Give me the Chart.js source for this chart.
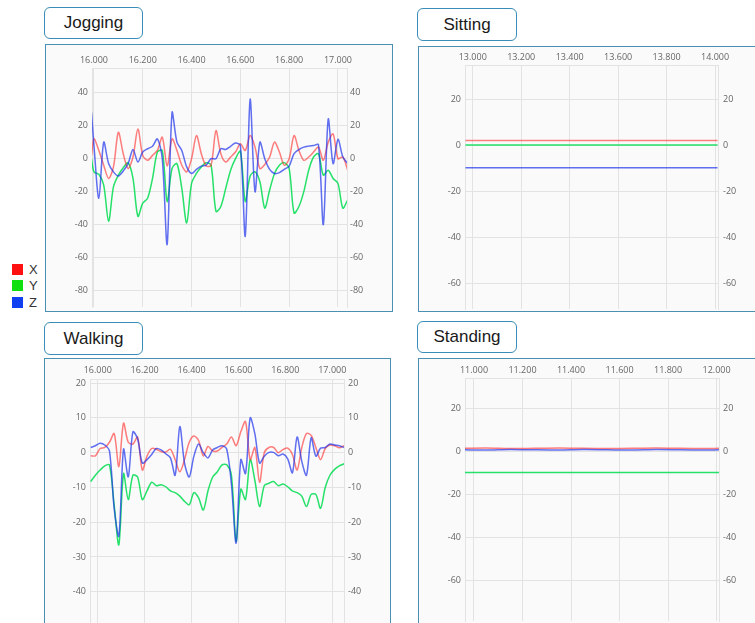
<!DOCTYPE html>
<html>
<head>
<meta charset="utf-8">
<script src="https://cdn.jsdelivr.net/npm/chart.js@4.4.0/dist/chart.umd.min.js"></script>
<style>
  body { margin: 0; width: 755px; height: 623px; overflow: hidden; background: #fff; position: relative; font-family: Arial, "Liberation Sans", sans-serif; }
  .tag { position: absolute; box-sizing: border-box; border: 1.5px solid #3a8db8; border-radius: 6px; background: #fff;
         font-size: 17px; color: #1a1a1a; display: flex; align-items: center; justify-content: center; }
  .box { position: absolute; box-sizing: border-box; border: 1.5px solid #4b8fb3; background: #fafafa; }
  canvas { position: absolute; }
  .sw { position: absolute; left: 12px; width: 11px; height: 11px; }
  .lt { position: absolute; left: 29px; font-size: 13px; line-height: 15px; color: #333; }
</style>
</head>
<body>
<div class="tag" style="left:44px;top:7px;width:99px;height:32px">Jogging</div>
<div class="tag" style="left:417px;top:8px;width:100px;height:33px">Sitting</div>
<div class="tag" style="left:44px;top:322px;width:99px;height:33px">Walking</div>
<div class="tag" style="left:417px;top:321px;width:100px;height:32px">Standing</div>

<div class="box" style="left:45px;top:44px;width:348px;height:268px"></div>
<div class="box" style="left:418px;top:46px;width:345px;height:266px"></div>
<div class="box" style="left:44px;top:358px;width:347px;height:280px"></div>
<div class="box" style="left:418px;top:358px;width:345px;height:280px"></div>

<canvas id="jogging" width="344" height="262" style="left:47px;top:48px"></canvas>
<canvas id="sitting" width="335" height="261" style="left:420px;top:49px"></canvas>
<canvas id="walking" width="343" height="265" style="left:46px;top:360px"></canvas>
<canvas id="standing" width="335" height="263" style="left:420px;top:360px"></canvas>

<div class="sw" style="top:264px;background:#ff1010"></div><div class="lt" style="top:262px">X</div>
<div class="sw" style="top:280px;background:#10e010"></div><div class="lt" style="top:278px">Y</div>
<div class="sw" style="top:297px;background:#1040f0"></div><div class="lt" style="top:295px">Z</div>

<script>
// Jogging
const joggingTime = [15.99, 16.00, 16.02, 16.04, 16.06, 16.08, 16.10, 16.12, 16.14, 16.16, 16.18, 16.20, 16.22, 16.24, 16.26, 16.28, 16.30, 16.32, 16.34, 16.36, 16.38, 16.40, 16.42, 16.44, 16.46, 16.48, 16.50, 16.52, 16.54, 16.56, 16.58, 16.60, 16.62, 16.64, 16.66, 16.68, 16.70, 16.72, 16.74, 16.76, 16.78, 16.80, 16.82, 16.84, 16.86, 16.88, 16.90, 16.92, 16.94, 16.96, 16.98, 17.00, 17.02, 17.04];
const joggingX = [2, 12, 5, -4, -12, -5, 16, 3, -6, 1, 18, 2, -1, 2, 5, 13, -4.5, 12, 5, -4, -8, 0, 14, 3, -4.5, -4, 17, 3, -2, 1, 4, 9, 5, 14, 7, -6, -3.5, 1, 10, 4, -4, 0, 14, 5, -1, 1, 4, 7, -1, 10, 15, 0, 1, -7];
const joggingY = [0, -8, -9.5, -16, -38, -17, -10, -5.5, -2.5, -12, -35, -27, -24, -12, 4, 5, -26, -6, -3, -18, -39, -15, -9, -5, -2.5, -4, -32, -29, -18, -7, 0, 4.5, -26, -10.5, -8, -14, -30, -19, -9, -4, -2.4, -6, -33, -29, -20, -7, 1, 3, -10, -7, -12, -15, -30, -25];
const joggingZ = [28, 8, -24, 10, -3, -8, -10.5, -7.5, -3, 5.6, -2, 4, 6, 7.5, 12, 0, -52, 28, 10, 5, -5, -9, -6.5, -4.5, -4, 0, 0, 6, 5.6, 7.5, 9.5, 8, -47, 36, -20, 10, 0, -6.5, -9, -8.5, -6.5, -4.5, 3, 5.5, 7, 7.6, 8, 8.5, -40, 24, -3, 11.7, 1, -3];

// Sitting
const sittingTime = [12.97, 13.05, 13.15, 13.25, 13.35, 13.45, 13.55, 13.65, 13.75, 13.85, 13.95, 14.01];
const sittingX = [2.2, 2.2, 2.2, 2.2, 2.2, 2.2, 2.2, 2.2, 2.2, 2.2, 2.2, 2.2];
const sittingY = [0.2, 0.2, 0.2, 0.2, 0.2, 0.2, 0.2, 0.2, 0.2, 0.2, 0.2, 0.2];
const sittingZ = [-9.6, -9.6, -9.6, -9.6, -9.6, -9.6, -9.6, -9.6, -9.6, -9.6, -9.6, -9.6];

// Walking
const walkingTime = [15.97, 15.99, 16.01, 16.03, 16.05, 16.07, 16.09, 16.11, 16.13, 16.15, 16.17, 16.19, 16.21, 16.23, 16.25, 16.27, 16.29, 16.31, 16.33, 16.35, 16.37, 16.39, 16.41, 16.43, 16.45, 16.47, 16.49, 16.51, 16.53, 16.55, 16.57, 16.59, 16.61, 16.63, 16.65, 16.67, 16.69, 16.71, 16.73, 16.75, 16.77, 16.79, 16.81, 16.83, 16.85, 16.87, 16.89, 16.91, 16.93, 16.95, 16.97, 16.99, 17.01, 17.03, 17.05];
const walkingX = [-0.9, -0.9, 1.2, 1.5, 3, 5.5, -4, 8.5, 3, 2.5, 4.5, -5, -1, 1.2, 1, 0.3, 0.2, 1, -2, -5.5, -2, 3, 4.8, 3.5, -0.9, 1.8, 0.5, 0.5, 1.5, 2.5, 4.5, 2, 6, 9, -2, 1.5, -8.5, 0, 1.5, 1.5, 0, 0.9, 1.3, -0.5, -5, 1.5, 5.5, 5, 1.5, -2, 1.2, 2.2, 2, 1.4, 2];
const walkingY = [-8.3, -6.5, -5, -3.8, -3.5, -15, -26.5, -6, -13.5, -6.5, -7, -13.5, -11, -8.5, -9.5, -9.2, -9.8, -11, -11.5, -12.5, -14, -15, -11.5, -13, -16.5, -11, -7, -5.5, -3.5, -3.5, -6.5, -25.5, -10.5, -13.5, -2, -8, -15.5, -9.5, -8.8, -8.3, -9.5, -9, -9.8, -11, -11.5, -12.5, -15.5, -12, -12, -16, -10, -6.5, -4.8, -3.8, -3.2];
const walkingZ = [1.5, 2, 2.7, 2.2, 0.5, -16, -24, 1, -7, 6, 4, -3, -2, -0.5, 1.2, 0.8, -0.3, -1.5, -6.5, 7.5, -3, -7, -1, 2.5, 0, -1.5, 0.8, 1.5, 2, 1, -9, -26, -2, -6, 10, 5.4, -3, -1, 0.1, 0.1, -0.9, -0.4, -1.8, -5.8, 4.5, -2.5, -6.5, 4.3, -1, 1.3, 1.5, 2.5, 2.2, 2, 1.5];

// Standing
const standingTime = [10.96, 11.05, 11.15, 11.25, 11.35, 11.45, 11.55, 11.65, 11.75, 11.85, 11.95, 12.01];
const standingX = [1.3, 1.4, 1.2, 1.3, 1.4, 1.3, 1.2, 1.3, 1.4, 1.3, 1.2, 1.3];
const standingY = [-9.9, -9.9, -9.9, -9.9, -9.9, -9.9, -9.9, -9.9, -9.9, -9.9, -9.9, -9.9];
const standingZ = [0.6, 0.5, 0.8, 0.6, 0.5, 0.7, 0.6, 0.5, 0.7, 0.6, 0.5, 0.6];

Chart.defaults.font.family = "'Open Sans', sans-serif";
Chart.defaults.font.size = 9;
Chart.defaults.color = '#666';

const gridColor = '#e3e3e3';
const colX = 'rgba(255, 40, 40, 0.6)';
const colY = 'rgba(0, 220, 80, 0.85)';
const colZ = 'rgba(30, 50, 235, 0.7)';

function points(time, values) {
    return time.map((t, i) => ({ x: t, y: values[i] }));
}

function yAxis(o, side) {
    return {
        position: side,
        min: o.yMin,
        max: o.yMax,
        grid: { display: side === 'left', color: gridColor, drawTicks: false },
        border: { color: gridColor },
        ticks: { stepSize: o.yStep, includeBounds: false, padding: side === 'left' ? 4 : o.rPad },
        afterFit: (s) => {
            s.width = side === 'left' ? o.left : o.right;
            s.paddingTop = 0;
            s.paddingBottom = 0;
        }
    };
}

function drawPanel(id, time, xs, ys, zs, o) {
    return new Chart(document.getElementById(id), {
        type: 'line',
        data: {
            datasets: [
                { label: 'Z', data: points(time, zs), borderColor: colZ, order: 0 },
                { label: 'X', data: points(time, xs), borderColor: colX, order: 1 },
                { label: 'Y', data: points(time, ys), borderColor: colY, order: 2 }
            ]
        },
        options: {
            responsive: false,
            animation: false,
            layout: { padding: { bottom: o.padBottom } },
            plugins: { legend: { display: false }, tooltip: { enabled: false } },
            elements: { point: { radius: 0 }, line: { borderWidth: 1.5, tension: 0.3 } },
            scales: {
                x: {
                    type: 'linear',
                    position: 'top',
                    min: o.xMin,
                    max: o.xMax,
                    grid: { color: gridColor, drawTicks: false },
                    border: { color: gridColor },
                    ticks: {
                        stepSize: 0.2, includeBounds: false, autoSkip: false, maxRotation: 0,
                        padding: o.xPad,
                        callback: (v) => v.toFixed(3)
                    },
                    afterFit: (s) => {
                        s.height = o.top;
                        s.paddingLeft = 0;
                        s.paddingRight = 0;
                    }
                },
                y: yAxis(o, 'left'),
                y2: yAxis(o, 'right')
            }
        }
    });
}

drawPanel('jogging', joggingTime, joggingX, joggingY, joggingZ,
    { xMin: 15.992, xMax: 17.037, yMin: -90, yMax: 55, yStep: 20, left: 45, right: 44, top: 20, padBottom: 3, xPad: 2, rPad: 3 });
drawPanel('sitting', sittingTime, sittingX, sittingY, sittingZ,
    { xMin: 12.968, xMax: 14.012, yMin: -71, yMax: 35, yStep: 20, left: 45, right: 37, top: 16, padBottom: 1, xPad: 2, rPad: 5 });
drawPanel('walking', walkingTime, walkingX, walkingY, walkingZ,
    { xMin: 15.967, xMax: 17.05, yMin: -49, yMax: 21.2, yStep: 10, left: 44, right: 45, top: 19, padBottom: 2, xPad: 3, rPad: 4 });
drawPanel('standing', standingTime, standingX, standingY, standingZ,
    { xMin: 10.963, xMax: 12.01, yMin: -79, yMax: 34, yStep: 20, left: 45, right: 36, top: 18, padBottom: 2, xPad: 2, rPad: 4 });
</script>
</body>
</html>
